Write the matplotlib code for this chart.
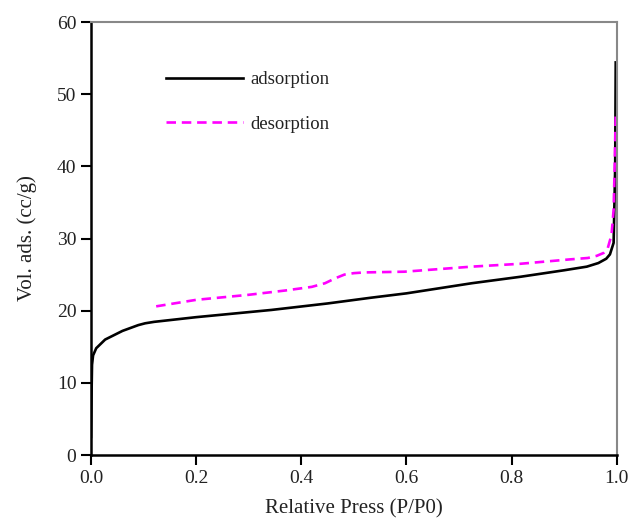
import numpy as np
import matplotlib.pyplot as plt

# adsorption branch
p_ads = [0.0, 0.001, 0.002, 0.004, 0.01, 0.027, 0.06, 0.09, 0.103, 0.12, 0.2, 0.343, 0.45,
         0.533, 0.6, 0.724, 0.817, 0.9, 0.943, 0.965, 0.98, 0.987, 0.994, 0.997, 0.998]
v_ads = [2.5, 8.0, 12.5, 13.8, 14.8, 16.0, 17.2, 18.0, 18.25, 18.45, 19.1, 20.1, 21.0,
         21.8, 22.4, 23.8, 24.7, 25.6, 26.1, 26.6, 27.2, 27.8, 29.4, 40.0, 54.4]

# desorption branch
p_des = [0.124, 0.2, 0.3, 0.37, 0.42, 0.445, 0.465, 0.482, 0.5, 0.52, 0.596, 0.724, 0.817,
         0.91, 0.945, 0.962, 0.975, 0.983, 0.99, 0.994, 0.996, 0.998]
v_des = [20.6, 21.5, 22.2, 22.8, 23.3, 23.8, 24.5, 25.0, 25.2, 25.3, 25.4, 26.1, 26.5,
         27.1, 27.3, 27.6, 28.0, 28.7, 30.5, 34.0, 40.0, 47.6]

plt.rcParams['font.family'] = ['Liberation Serif', 'DejaVu Serif']

fig = plt.figure(figsize=(6.3, 5.19), dpi=100)
ax = fig.add_axes([0.1444, 0.1233, 0.8346, 0.8343])

ax.plot(p_ads, v_ads, color='black', lw=1.9, label='adsorption')
ax.plot(p_des, v_des, color='#ff00ff', lw=1.9, dashes=(3.6, 2.2), label='desorption')

ax.set_xlim(0, 1.0)
ax.set_ylim(0, 60)
ax.set_xticks([0.0, 0.2, 0.4, 0.6, 0.8, 1.0])
ax.set_xticklabels(['0.0', '0.2', '0.4', '0.6', '0.8', '1.0'])
ax.set_yticks([0, 10, 20, 30, 40, 50, 60])

ax.tick_params(direction='out', length=7, width=1.5, labelsize=14, color='black',
               labelcolor='#222222')
for s in ['left', 'bottom']:
    ax.spines[s].set_linewidth(1.8)
    ax.spines[s].set_color('black')
for s in ['top', 'right']:
    ax.spines[s].set_linewidth(1.5)
    ax.spines[s].set_color('#888888')

ax.set_xlabel('Relative Press (P/P0)', fontsize=15, labelpad=9, color='#222222')
ax.set_ylabel('Vol. ads. (cc/g)', fontsize=15, labelpad=14, color='#222222')

leg = ax.legend(loc='upper left', bbox_to_anchor=(0.11, 0.925), frameon=False, fontsize=13.5,
                handlelength=4.1, handletextpad=0.4, labelspacing=1.45)
for t in leg.get_texts():
    t.set_color('#222222')

plt.savefig('out.png', dpi=100)
